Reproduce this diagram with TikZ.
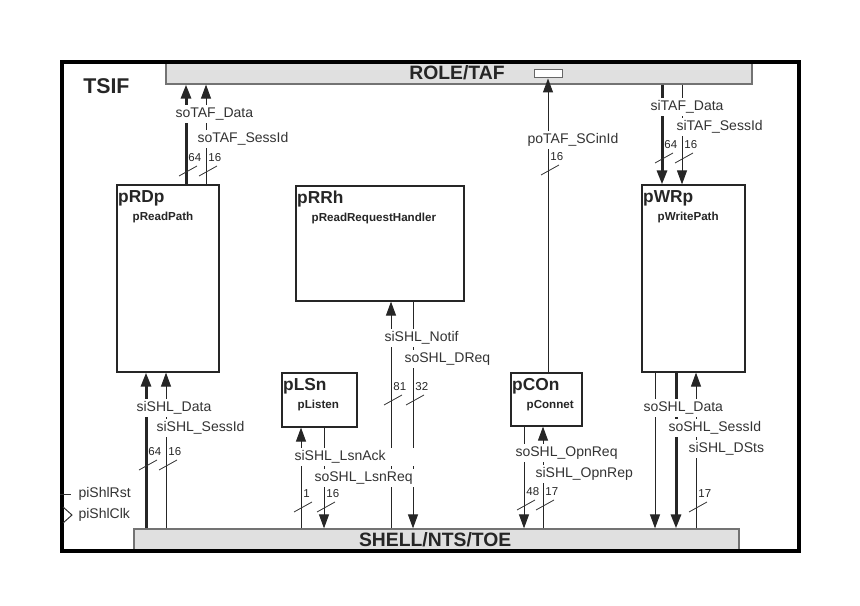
\documentclass[tikz,border=0pt]{standalone}
\usepackage{fontspec}
\setmainfont{Liberation Sans}
\usetikzlibrary{arrows.meta,fit}

\begin{document}
\begin{tikzpicture}[x=0.75pt,y=-0.75pt,
  wire/.style={draw=black!85,line width=0.75pt,-{Triangle[length=10.5pt,width=7.5pt]}},
  bus/.style={wire,line width=2.25pt},
  blk/.style={draw=black!85,line width=0.9pt,fill=white,inner sep=0pt},
  btitle/.style={anchor=west,inner sep=0pt,text=black!85,font=\bfseries\fontsize{13}{15}\selectfont},
  bsub/.style={anchor=west,inner sep=0pt,text=black!85,font=\bfseries\fontsize{8.7}{10}\selectfont},
  bar/.style={draw=black!55,line width=0.9pt,fill=black!12,inner sep=0pt},
  bartxt/.style={inner sep=0pt,text=black!85,font=\bfseries\fontsize{14.5}{16}\selectfont},
  slbl/.style={fill=white,inner xsep=1pt,inner ysep=2pt,anchor=west,text=black!80,
               font=\fontsize{10.5}{12}\selectfont},
  bwn/.style={inner sep=0.5pt,anchor=west,text=black!85,font=\fontsize{8.6}{10}\selectfont}]

\useasboundingbox (0,0) rectangle (860,606);

% ---- ROLE and SHELL bars ----
\node[bar,fit={(166,62) (752,84)}] (role) {};
\node[bartxt] (role-t) at ([xshift=-1.5]role.center) {ROLE/TAF};
\node[draw=black!60,line width=0.75pt,fill=white,inner sep=0pt,fit={(534,70) (562,78)}] (scin) {};
\node[bar,fit={(134,529) (739,550)}] (shl) {};
\node[bartxt] (shl-t) at ([xshift=-1]shl.center) {SHELL/NTS/TOE};

% ---- Blocks: \blk{name}{nw corner}{se corner}{title}{long name}
\newcommand{\blk}[5]{
  \node[blk,fit={(#2) (#3)}] (#1) {};
  \node[btitle] (#1-t) at ([shift={(1.5,13.5)}]#1.north west) {#4};
  \node[bsub] (#1-s) at ([shift={(16,33)}]#1.north west) {#5};
}
\blk{pRDp}{117,185}{219,372}{pRDp}{pReadPath}
\blk{pRRh}{296,186}{464,301}{pRRh}{pReadRequestHandler}
\blk{pWRp}{642,185}{745,372}{pWRp}{pWritePath}
\blk{pLSn}{282,373}{357,427}{pLSn}{pListen}
\blk{pCOn}{511,373}{582,426}{pCOn}{pConnet}

% ---- wire columns ----
\foreach \x in {146,166,186,206,301,324,391,413,524,543,548,655,662,676,682,696}
  \coordinate (w\x) at (\x,0);

% ---- Wires: \sig{style}{column}{from}{to}
\newcommand{\sig}[4]{\draw[#1] (#3 -| w#2) -- (#4 -| w#2);}
% TAF side
\sig{bus}{186}{pRDp.north}{role.south}
\sig{wire}{206}{pRDp.north}{role.south}
\sig{wire}{548}{pCOn.north}{scin.south}
\sig{bus}{662}{role.south}{pWRp.north}
\sig{wire}{682}{role.south}{pWRp.north}
% SHL side
\sig{bus}{146}{shl.north}{pRDp.south}
\sig{wire}{166}{shl.north}{pRDp.south}
\sig{wire}{301}{shl.north}{pLSn.south}
\sig{wire}{324}{pLSn.south}{shl.north}
\sig{wire}{391}{shl.north}{pRRh.south}
\sig{wire}{413}{pRRh.south}{shl.north}
\sig{wire}{524}{pCOn.south}{shl.north}
\sig{wire}{543}{shl.north}{pCOn.south}
\sig{wire}{655}{pWRp.south}{shl.north}
\sig{bus}{676}{pWRp.south}{shl.north}
\sig{wire}{696}{shl.north}{pWRp.south}

% ---- Signal names: \slbl[opts]{name}{x}{y}{text}
\newcommand{\slbl}[5][]{\node[slbl,#1] (#2) at (#3,#4) {#5};}
\slbl{soTAFData}{174}{114}{soTAF\_Data}
\slbl{soTAFSessId}{196}{139}{soTAF\_SessId}
\slbl{poTAFSCinId}{526}{140}{poTAF\_SCinId}
\slbl{siTAFData}{649}{107}{siTAF\_Data}
\slbl{siTAFSessId}{675}{127}{siTAF\_SessId}
\slbl{siSHLNotif}{383}{338}{siSHL\_Notif}
\slbl{soSHLDReq}{403}{359}{soSHL\_DReq}
\slbl[text width=89pt]{siSHLLsnAck}{293}{457}{siSHL\_LsnAck}
\slbl[text width=76pt]{soSHLLsnReq}{313}{478}{soSHL\_LsnReq}
\slbl{siSHLData}{135}{408}{siSHL\_Data}
\slbl{siSHLSessId}{155}{428}{siSHL\_SessId}
\slbl{soSHLOpnReq}{514}{453}{soSHL\_OpnReq}
\slbl{siSHLOpnRep}{534}{474}{siSHL\_OpnRep}
\slbl{soSHLData}{642}{408}{soSHL\_Data}
\slbl{soSHLSessId}{667}{428}{soSHL\_SessId}
\slbl{siSHLDSts}{687}{449}{siSHL\_DSts}

% ---- Bus widths: \bw{name}{x}{y}{bits}
\newcommand{\bw}[4]{
  \draw[black!80,line width=0.6pt] (#2-7,#3+5) -- (#2+11,#3-5);
  \node[bwn] (#1) at (#2+1.5,#3-13) {#4};
}
\bw{n1}{186}{171}{64}
\bw{n2}{206}{171}{16}
\bw{n3}{548}{170}{16}
\bw{n4}{662}{158}{64}
\bw{n5}{682}{158}{16}
\bw{n6}{391}{400}{81}
\bw{n7}{413}{400}{32}
\bw{n8}{301}{507}{1}
\bw{n9}{324}{507}{16}
\bw{n10}{146}{465}{64}
\bw{n11}{166}{465}{16}
\bw{n12}{524}{505}{48}
\bw{n13}{543}{505}{17}
\bw{n14}{696}{507}{17}

% ---- TSIF frame and pins ----
\node[draw=black,line width=3pt,inner sep=0pt,fit={(62,62) (799,551)}] (tsifbox) {};
\node[anchor=west,inner sep=0pt,text=black!85,font=\bfseries\fontsize{16}{18}\selectfont] (tsif) at (83,86) {TSIF};
\node[slbl,inner ysep=1pt] (piShlRst) at (77,494) {piShlRst};
\node[slbl,inner ysep=1pt] (piShlClk) at (77,515) {piShlClk};
\draw[black!80,line width=0.75pt] (tsifbox.west |- piShlRst) -- ++(11,0);
\draw[black!80,line width=0.75pt] (tsifbox.west |- piShlClk) ++(3,-8) -- ++(9,8) -- ++(-9,8);

\end{tikzpicture}
\end{document}
